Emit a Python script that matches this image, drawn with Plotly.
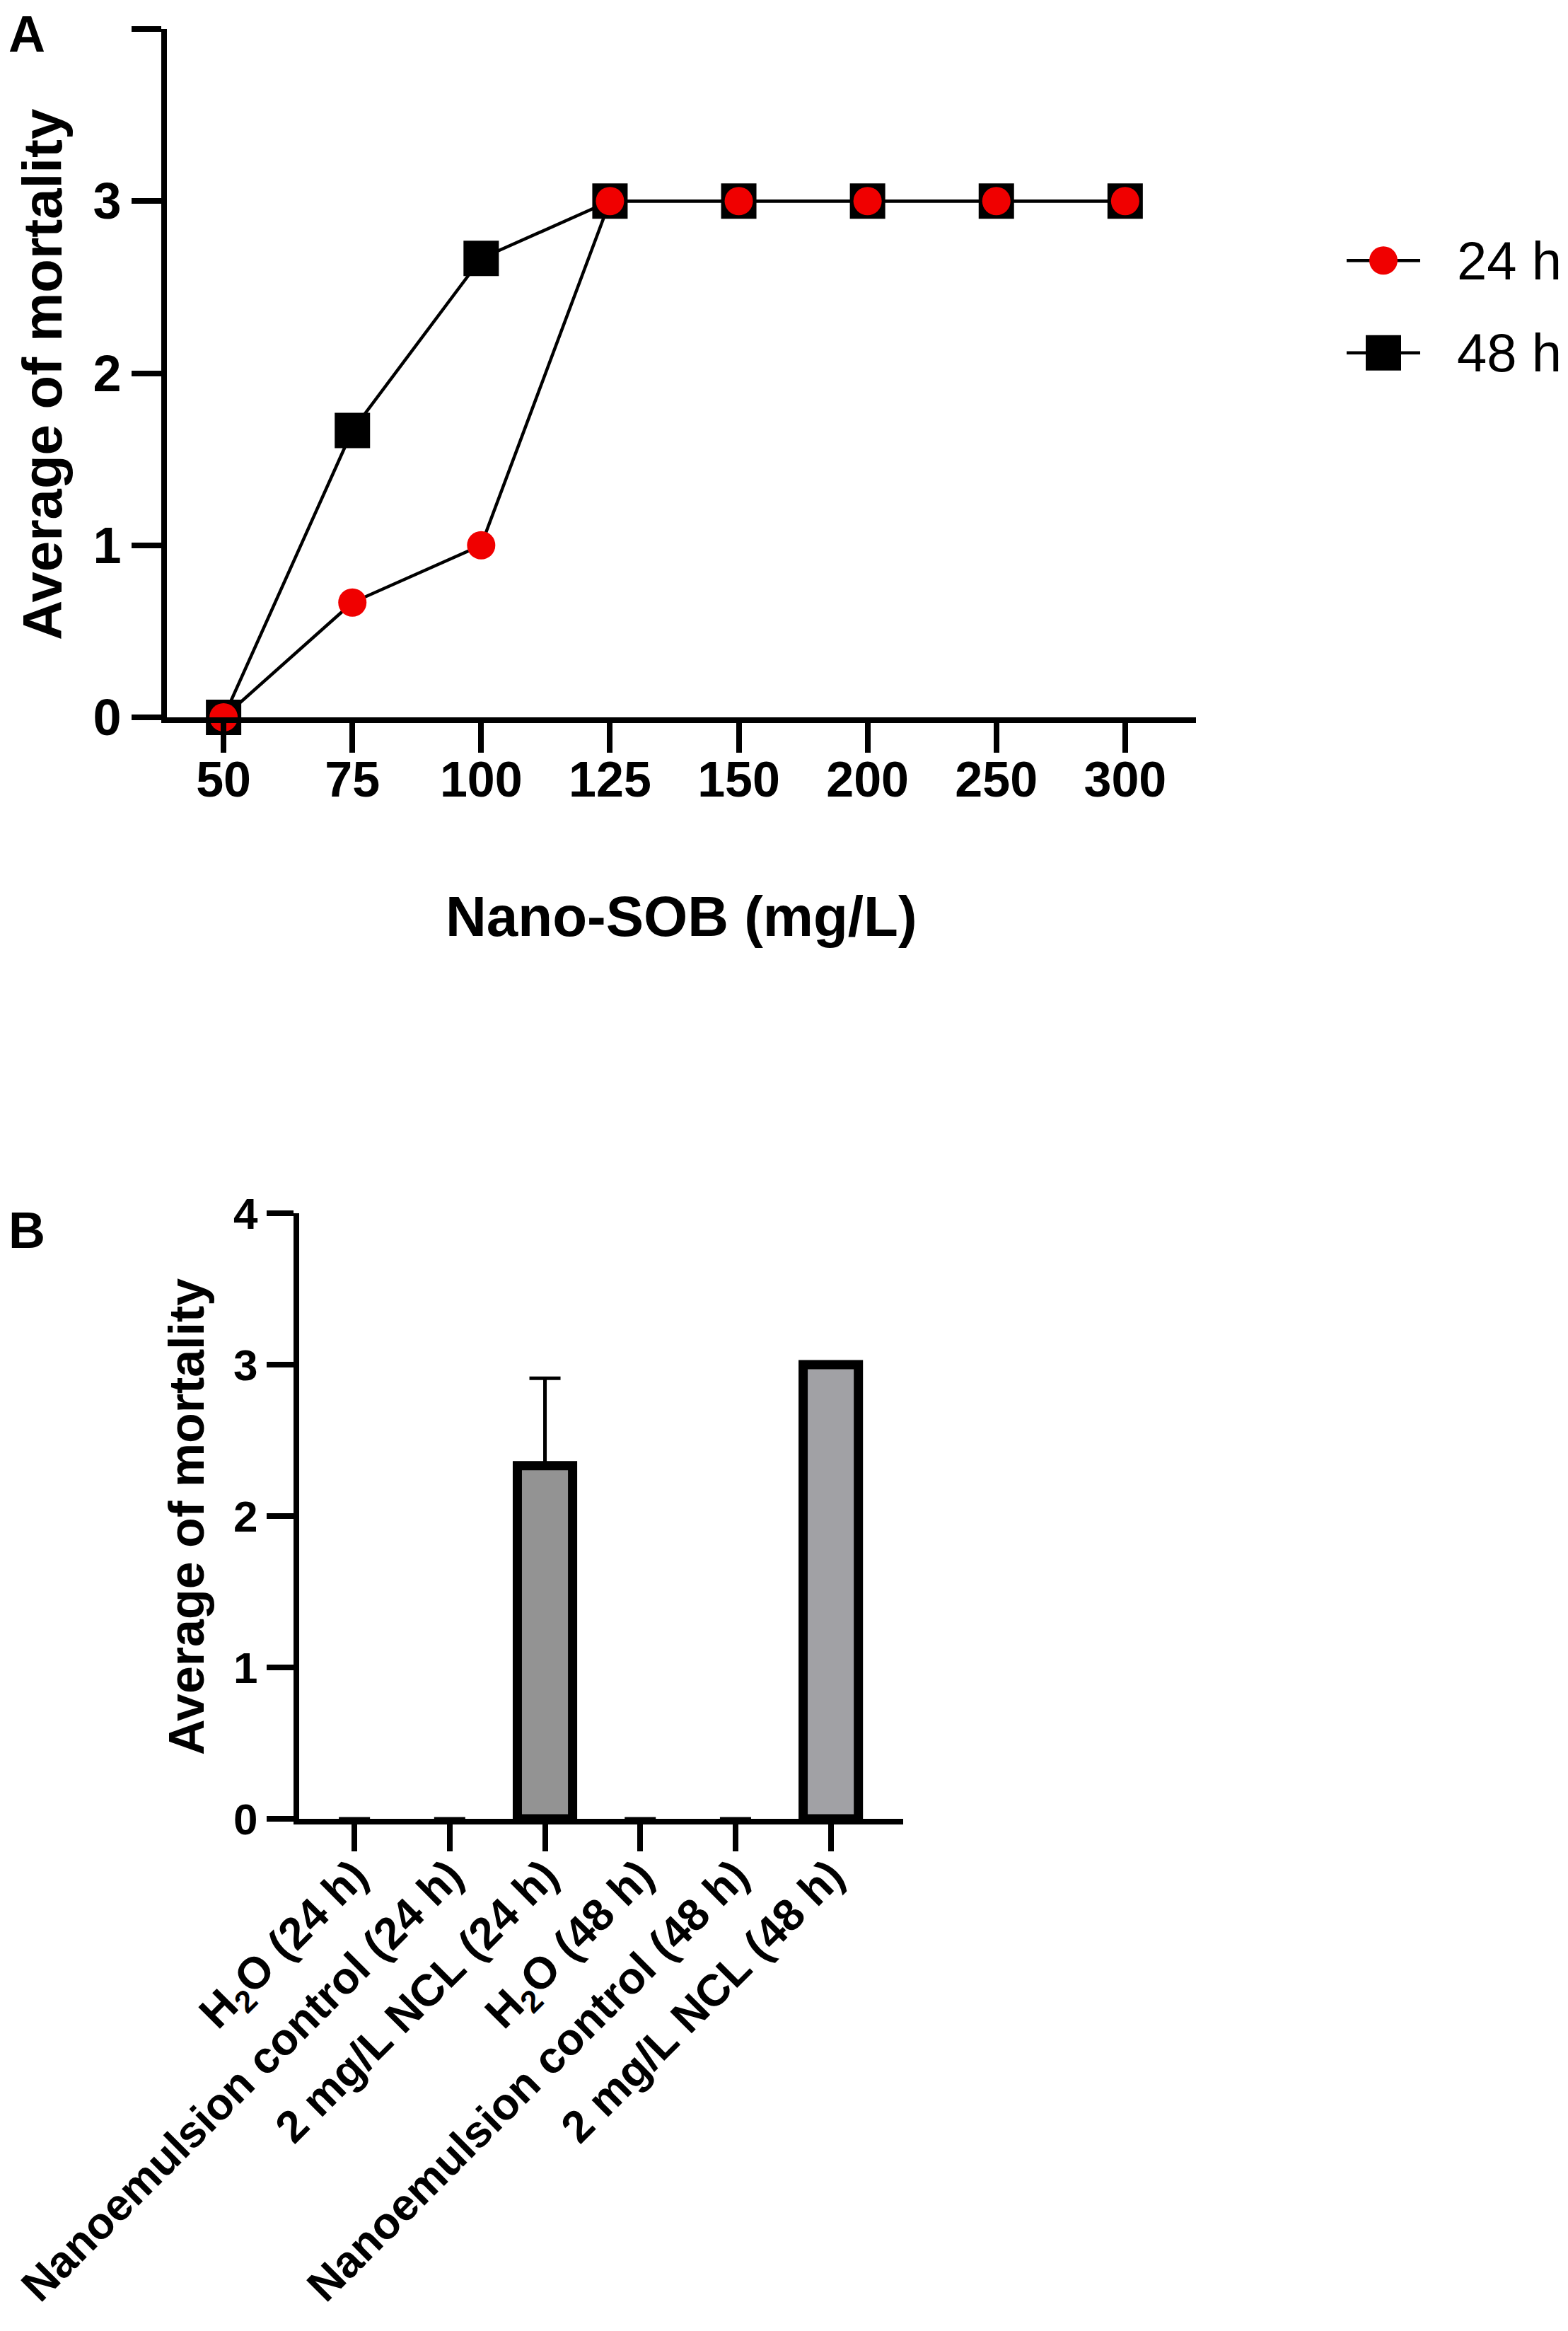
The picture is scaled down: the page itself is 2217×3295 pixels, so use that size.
import plotly.graph_objects as go

# ---------------- data ----------------
concentrations = ["50", "75", "100", "125", "150", "200", "250", "300"]
mortality_24h = [0, 0.667, 1, 3, 3, 3, 3, 3]
mortality_48h = [0, 1.667, 2.667, 3, 3, 3, 3, 3]

groups = ["H<sub>2</sub>O (24 h)", "Nanoemulsion control (24 h)", "2 mg/L NCL (24 h)",
          "H<sub>2</sub>O (48 h)", "Nanoemulsion control (48 h)", "2 mg/L NCL (48 h)"]
group_mean = [0, 0, 2.333, 0, 0, 3]
group_sd = [0, 0, 0.577, 0, 0, 0]

y_ticks = [0, 1, 2, 3, 4]
series_names = ["24 h", "48 h"]

# ---------------- style ----------------
W, H = 2217, 3295
FONT = "Liberation Sans, Arial, Helvetica, sans-serif"
RED = "#f00000"
BAR_COLORS = ["#939393", "#939393", "#939393", "#a1a1a5", "#a1a1a5", "#a1a1a5"]

def px_x(p):
    return p / W

def px_y(p):
    return 1 - p / H

fig = go.Figure()

# Panel A
fig.add_trace(go.Scatter(
    x=concentrations, y=mortality_48h, name=series_names[1], mode="lines+markers",
    line=dict(color="black", width=4.5),
    marker=dict(symbol="square", size=50, color="black", opacity=1, line=dict(width=0)),
    xaxis="x", yaxis="y", showlegend=False, cliponaxis=False))
fig.add_trace(go.Scatter(
    x=concentrations, y=mortality_24h, name=series_names[0], mode="lines+markers",
    line=dict(color="black", width=4.5),
    marker=dict(symbol="circle", size=40, color=RED, opacity=1, line=dict(width=0)),
    xaxis="x", yaxis="y", showlegend=False, cliponaxis=False))

# Panel B
fig.add_trace(go.Bar(
    x=groups, y=group_mean, width=0.58,
    marker=dict(color=BAR_COLORS, opacity=1,
                line=dict(color="black", width=[13 if v > 0 else 0 for v in group_mean])),
    error_y=dict(type="data", array=group_sd, arrayminus=[0] * len(group_sd),
                 symmetric=False, color="black", thickness=5, width=22),
    xaxis="x2", yaxis="y2", showlegend=False, cliponaxis=False))

# Custom legend (drawn on a hidden helper axis so markers keep full size)
legend_rows = [1, 0]
for name, row, sym, col, size in [(series_names[0], legend_rows[0], "circle", RED, 40),
                                  (series_names[1], legend_rows[1], "square", "black", 50)]:
    fig.add_trace(go.Scatter(
        x=[0, 1, 2], y=[row, row, row], mode="lines+markers",
        line=dict(color="black", width=4.5),
        marker=dict(symbol=sym, size=[0, size, 0], color=col, opacity=1, line=dict(width=0)),
        xaxis="x3", yaxis="y3", showlegend=False, hoverinfo="skip", cliponaxis=False))

axis_common = dict(showgrid=False, zeroline=False, showline=True, linecolor="black",
                   linewidth=8, ticks="outside", tickcolor="black", tickwidth=8,
                   fixedrange=True, automargin=False)

fig.update_layout(
    template="none",
    width=W, height=H,
    margin=dict(l=0, r=0, t=0, b=0, autoexpand=False),
    paper_bgcolor="white", plot_bgcolor="white",
    font=dict(family=FONT, color="black"),
    xaxis=dict(axis_common, domain=[px_x(228), px_x(1683)], type="category",
               range=[-0.44, 7.55], anchor="y", ticklen=42, ticklabelstandoff=-22,
               tickfont=dict(size=70, weight="bold", family=FONT, color="black")),
    yaxis=dict(axis_common, domain=[px_y(1006), px_y(33)], range=[0, 4],
               tickvals=y_ticks, anchor="x", ticklen=42,
               tickfont=dict(size=72, weight="bold", family=FONT, color="black")),
    xaxis2=dict(axis_common, domain=[px_x(415), px_x(1269)], type="category",
                range=[-0.58, 5.76], anchor="y2", ticklen=38, tickangle=-45,
                ticklabelstandoff=-28,
                tickfont=dict(size=63, weight="bold", family=FONT, color="black")),
    yaxis2=dict(axis_common, domain=[px_y(2563), px_y(1707)], range=[0, 4],
                tickvals=y_ticks, anchor="x2", ticklen=38,
                tickfont=dict(size=62, weight="bold", family=FONT, color="black")),
    xaxis3=dict(domain=[px_x(1896), px_x(2000)], range=[0, 2], visible=False,
                anchor="y3", fixedrange=True, automargin=False),
    yaxis3=dict(domain=[px_y(556), px_y(295)], range=[-0.5, 1.5], visible=False,
                anchor="x3", fixedrange=True, automargin=False),
)

annotations = [
    dict(text="A", x=px_x(2), y=px_y(40), xref="paper", yref="paper",
         xanchor="left", yanchor="middle", showarrow=False,
         font=dict(size=72, weight="bold", family=FONT)),
    dict(text="B", x=px_x(2), y=px_y(1731), xref="paper", yref="paper",
         xanchor="left", yanchor="middle", showarrow=False,
         font=dict(size=72, weight="bold", family=FONT)),
    dict(text="Average of mortality", x=px_x(52), y=px_y(522), xref="paper", yref="paper",
         textangle=-90, xanchor="center", yanchor="middle", showarrow=False,
         font=dict(size=78, weight="bold", family=FONT)),
    dict(text="Nano-SOB (mg/L)", x=px_x(955), y=px_y(1288), xref="paper", yref="paper",
         xanchor="center", yanchor="middle", showarrow=False,
         font=dict(size=80, weight="bold", family=FONT)),
    dict(text="Average of mortality", x=px_x(256), y=px_y(2136), xref="paper", yref="paper",
         textangle=-90, xanchor="center", yanchor="middle", showarrow=False,
         font=dict(size=70, weight="bold", family=FONT)),
]
for name, row in zip(series_names, legend_rows):
    annotations.append(dict(text=name, x=px_x(2050), y=row, xref="paper", yref="y3",
                            xanchor="left", yanchor="middle", showarrow=False,
                            font=dict(size=76, family=FONT)))
fig.update_layout(annotations=annotations)

fig.write_html("out.html")
